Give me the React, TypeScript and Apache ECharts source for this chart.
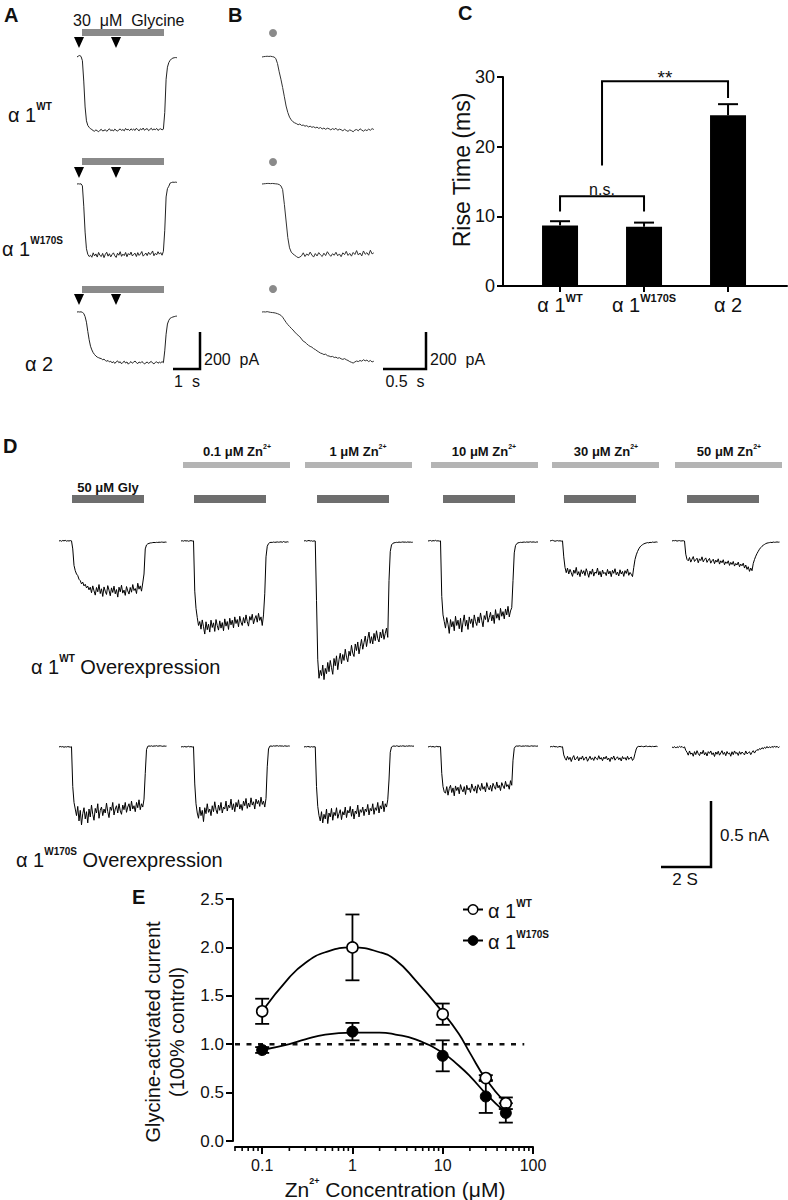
import React, { useEffect, useRef } from "react";
import * as echarts from "echarts";

const FONT = '"Liberation Sans", Arial, Helvetica, sans-serif';

// ---------------- Panel A : whole-cell currents (pA), one sample every 0.05 s
const A_DT = 0.05;
const A_TRACE_WT = [0, 5, 8, 3, -20, -130, -270, -345, -370, -380, -388,
  -392, -398, -401, -394, -399, -404, -396, -391, -400, -397, -393, -402, -395, -388, -398, -394, -400, -390, -396, -401,
  -393, -389, -397, -392, -399, -386, -394, -391, -398, -388, -395, -390, -397, -385, -393, -399, -388, -394, -384, -396,
  -390, -387, -398, -392, -385, -395, -389, -393, -386, -397, -391, -388, -394, -390,
  -300, -120, -55, -30, -18, -10, -6, -4, -3, -4];
const A_TRACE_W170S = [0, 1, 0, 1, -10, -120, -260, -350, -380, -392, -385,
  -396, -372, -389, -378, -395, -370, -386, -392, -375, -398, -380, -369, -390, -377, -394, -381, -372, -388, -397, -374,
  -385, -366, -391, -379, -387, -370, -393, -376, -384, -368, -389, -380, -374, -392, -371, -386, -378, -365, -390, -382,
  -373, -387, -369, -381, -376, -362, -388, -375, -383, -366, -379, -371, -385, -364,
  -250, -70, -25, -12, 5, 8, 10, 9, 10, 9];
const A_TRACE_A2 = [0, 1, 0, 1, -2, -8, -25, -55, -105, -150, -185, -205, -220, -230, -238, -244, -247, -250, -252, -258, -255, -262, -266,
  -262, -270, -266, -275, -268, -278, -270, -264, -274, -269, -280, -272, -266, -276, -270, -282, -274, -268, -277, -271,
  -265, -274, -279, -270, -276, -268, -273, -281, -275, -270, -278, -272, -267, -276, -280, -273, -269, -277, -271, -275, -268, -274,
  -210, -120, -65, -45, -34, -30, -27, -25, -23, -22];

// ---------------- Panel B : onset of the same currents (pA), one sample every 0.02 s
const B_DT = 0.02;
const B_TRACE_WT = [0, 2, 3, 4, 3, 4, 2, 0, -8, -35, -80, -120, -165, -215, -265, -300, -325, -340, -350, -356,
  -360, -366, -362, -370, -368, -374, -371, -378, -374, -380, -377, -383, -379,
  -386, -381, -389, -384, -391, -385, -388, -394, -387, -392, -385, -396, -390, -393, -399, -391, -397, -402, -394, -398,
  -404, -395, -392, -399, -388, -395, -401, -393, -398, -390, -396, -387, -392];
const B_TRACE_W170S = [0, 1, 2, 3, 3, 2, 3, 2, 1, 0, -3, -10, -30, -110, -200, -290, -345, -368, -378, -385, -392, -398, -395,
  -388, -372, -392, -378, -386, -368, -384, -395, -376, -389, -371, -383, -392, -374, -387, -366, -380, -391, -377, -385,
  -369, -388, -378, -393, -372, -382, -364, -386, -375, -390, -370, -381, -360, -384, -373, -389, -362, -380, -371, -385, -358, -378, -372];
const B_TRACE_A2 = [0, 1, 0, 2, 0, -2, -3, -4, -6, -9, -13, -18, -28, -42, -56, -68, -78, -88, -97, -108, -118, -126, -134,
  -146, -158, -163, -172, -180, -186, -190, -198, -203, -210, -216, -222, -225, -230, -228, -236, -238, -242, -240, -246,
  -244, -250, -247, -253, -256, -252, -258, -262, -268, -272, -276, -270, -265, -268, -262, -266, -258, -264, -260, -268,
  -262, -270, -266];

// ---------------- Panel C : rise time (ms)
const C_GROUPS = ["α 1", "α 1", "α 2"];
const C_GROUP_SUP = ["WT", "W170S", ""];
const C_MEAN = [8.7, 8.5, 24.5];
const C_SEM = [0.6, 0.6, 1.6];
// brackets: [from group, to group, top, left end, right end]
const C_BRACKETS = [[0, 1, 12.9, 10.7, 10.7], [0.5, 2, 29.4, 17.3, 27.0]];
const C_BRACKET_TEXT = ["n.s.", "**"];

// ---------------- Panel D : currents (pA), one sample every 0.05 s
const D_DT = 0.05;
const D_CONDITIONS = ["50 μM Gly", "0.1 μM Zn", "1 μM Zn", "10 μM Zn", "30 μM Zn", "50 μM Zn"];
const D_WT_GLY = [0, 3, -2, 4, 1, 5, -1, 2, 0, 3, 1,
  -60, -185, -225, -250, -262, -290, -300, -325, -312, -340, -328, -355, -342, -370, -350,
  -392, -340, -378, -410, -352, -385, -330, -398, -362, -420, -348, -380, -405, -338, -372, -415, -355, -390, -342, -400,
  -368, -425, -350, -385, -335, -395, -372, -412, -345, -378, -402, -352, -388, -330, -375, -360, -398, -320, -365, -340, -380, -318,
  -250, -60, -30, -22, -18, -15, -14, -12, -11, -12, -10, -11, -9, -10, -8, -9, -10, -8, -9];
const D_WT_ZN01 = [0, 2, -1, 3, 0, 2, -2, 1, 3, 0, 1, -380, -510, -580, -640, -610,
  -668, -598, -650, -705, -612, -672, -630, -690, -600, -655, -620, -685, -595, -640, -675, -605, -660, -618, -680, -590,
  -645, -610, -670, -585, -635, -600, -658, -575, -625, -595, -650, -570, -615, -640, -580, -622, -560, -610, -645, -572,
  -600, -555, -628, -590, -565, -615, -548, -602, -575, -640, -560,
  -400, -120, -40, -20, -12, -10, -11, -8, -10, -9, -7, -9, -8, -6, -10, -4, -8, -9, -6, -8];
const D_WT_ZN1 = [0, 3, -1, 2, 4, 0, 2, -2, 1, 0, -450, -900, -1040, -980,
  -1020, -940, -1050, -965, -1005, -920, -990, -905, -960, -1010, -890, -945, -870, -975, -900, -850, -930, -860, -905, -820,
  -880, -915, -835, -870, -790, -850, -875, -780, -830, -765, -855, -800, -745, -820, -770, -720, -800, -740, -690, -775,
  -725, -780, -700, -755, -680, -740, -765, -690, -735, -670, -745, -700, -660, -730,
  -300, -80, -30, -18, -14, -12, -10, -11, -8, -10, -9, -7, -9, -8, -10, -7, -9, -8, -10, -9];
const D_WT_ZN10 = [0, 2, 4, -1, 3, 1, 5, 0, 2, -1, 1, -420, -560, -610,
  -660, -580, -630, -700, -595, -650, -610, -680, -570, -640, -600, -665, -585, -690, -615, -560, -645, -600, -670, -575,
  -625, -590, -655, -560, -610, -640, -575, -620, -545, -600, -650, -565, -595, -530, -615, -580, -540, -605, -560, -625,
  -520, -585, -550, -600, -510, -570, -535, -590, -515, -560, -495, -575, -530, -505,
  -300, -90, -35, -20, -14, -12, -10, -11, -9, -8, -10, -7, -9, -8, -6, -9, -7, -8, -10, -7, -8];
const D_WT_ZN30 = [0, 3, 5, 2, -2, 1, 3, 0, 2, -1, 1, -120, -200, -240,
  -205, -250, -215, -240, -268, -220, -245, -200, -258, -232, -270, -218, -248, -225, -262, -210, -240, -275, -228, -252,
  -212, -266, -235, -245, -205, -258, -230, -272, -220, -248, -238, -262, -215, -250, -228, -270, -222, -245, -210, -256,
  -235, -265, -218, -250, -230, -268, -225, -246, -212, -260, -238, -252, -270,
  -200, -140, -105, -80, -60, -45, -35, -28, -22, -18, -15, -12, -14, -10, -12, -8, -10, -9, -7, -9];
const D_WT_ZN50 = [0, 3, 2, 4, -1, 2, 3, 0, 1, 2, 0, -100, -140,
  -150, -125, -160, -138, -118, -155, -142, -130, -165, -135, -148, -120, -158, -140, -128, -162, -145, -132, -168, -150,
  -138, -172, -145, -160, -135, -175, -150, -165, -142, -180, -158, -170, -150, -185, -162, -178, -155, -190, -170, -182,
  -160, -195, -175, -188, -168, -205, -182, -215, -195, -230, -205, -225,
  -170, -140, -115, -95, -78, -62, -50, -40, -32, -26, -20, -16, -14, -12, -10, -12, -8, -10, -9, -7, -9, -8];
const D_MUT_GLY = [0, 4, 1, 3, -2, 2, 0, 3, 1, -1, 2, -300, -420, -470,
  -520, -450, -560, -480, -590, -505, -460, -545, -490, -575, -470, -530, -440, -510, -555, -465, -500, -430, -540, -480,
  -455, -520, -470, -500, -425, -490, -535, -455, -480, -420, -515, -470, -445, -500, -430, -485, -510, -440, -475, -420,
  -495, -455, -430, -485, -410, -470, -445, -490, -420, -460, -400, -475, -430, -455, -395,
  -200, -20, 5, 8, 6, 9, 5, 8, 7, 10, 6, 8, 9, 7, 5, 8, 6, 7];
const D_MUT_ZN01 = [0, 3, 1, 4, 0, 2, 5, 1, 3, 0, 2, -280, -430, -500,
  -540, -455, -520, -480, -565, -460, -505, -430, -495, -470, -520, -445, -490, -415, -475, -505, -440, -480, -420, -500,
  -455, -470, -410, -485, -440, -460, -395, -475, -430, -490, -420, -455, -400, -470, -435, -480, -410, -445, -390, -465,
  -425, -455, -385, -440, -415, -470, -395, -430, -405, -450, -380, -435, -410, -455, -390,
  -150, -15, 6, 8, 5, 9, 7, 8, 10, 6, 9, 7, 8, 5, 9, 7, 6, 8, 7];
const D_MUT_ZN1 = [0, 3, 1, 4, 2, -1, 3, 0, 2, 1, -300, -450, -520,
  -560, -490, -575, -510, -545, -470, -580, -500, -530, -465, -555, -495, -520, -460, -540, -505, -475, -550, -490, -515,
  -455, -535, -480, -500, -450, -525, -470, -545, -485, -505, -440, -530, -475, -495, -455, -520, -470, -490, -435, -515,
  -465, -485, -430, -510, -460, -480, -420, -500, -445, -470, -410, -490, -430, -455, -400,
  -250, -40, 0, 6, 8, 5, 9, 7, 4, 8, 6, 9, 7, 5, 8, 6, 9, 7, 8, 6, 7];
const D_MUT_ZN10 = [0, 3, 5, 1, 4, 0, 2, 5, 1, 3, 2, -200, -300, -340,
  -350, -300, -365, -315, -290, -345, -310, -370, -295, -330, -305, -355, -285, -320, -340, -300, -360, -290, -325, -310,
  -345, -280, -315, -335, -295, -350, -285, -310, -330, -275, -320, -300, -340, -270, -305, -325, -290, -335, -275, -300,
  -320, -265, -310, -290, -330, -270, -295, -315, -260, -300, -285, -320, -255, -290,
  -100, -10, 5, 8, 6, 9, 7, 5, 8, 6, 9, 7, 8, 5, 7, 9, 6, 8, 7, 6, 8];
const D_MUT_ZN30 = [0, 4, 2, 6, 1, 3, -1, 2, 4, 0, 2, -60, -85,
  -100, -70, -95, -78, -110, -82, -65, -98, -88, -72, -105, -80, -92, -68, -100, -85, -75, -108, -90, -70,
  -95, -82, -102, -74, -88, -96, -66, -92, -80, -104, -76, -90, -70, -98, -84, -110, -78, -92, -68, -100,
  -86, -74, -96, -82, -106, -72, -90, -80, -100, -70, -94, -84, -76, -102, -88,
  -50, -15, 2, 5, 3, 6, 4, 2, 5, 7, 3, 4, 6, 2, 5, 3, 4, 6, 3];
const D_MUT_ZN50 = [0, -5, 3, -8, 2, -4, 5, -2, 4, -6, 1, -25,
  -40, -62, -30, -55, -45, -70, -35, -58, -28, -50, -65, -38, -52, -25, -60, -42, -68, -35, -48, -30,
  -58, -44, -72, -38, -55, -32, -62, -46, -28, -56, -40, -66, -34, -52, -45, -70, -36, -58, -30, -50,
  -42, -64, -35, -55, -38, -48, -60, -30, -52, -44, -36, -58, -40, -28, -46,
  -30, -20, -25, -12, -18, -5, -14, -2, -10, 4, -8, 2, -6, 5, -4, 8, -3, 6, -5, 2];

// ---------------- Panel E : normalised glycine current vs Zn2+ (μM)
const E_CONC = [0.1, 1, 10, 30, 50];
const E_WT_MEAN = [1.34, 2.0, 1.31, 0.65, 0.39];
const E_WT_SEM = [0.13, 0.34, 0.11, 0.03, 0.06];
const E_MUT_MEAN = [0.94, 1.13, 0.88, 0.46, 0.29];
const E_MUT_SEM = [0.03, 0.09, 0.16, 0.17, 0.1];
const E_FIT_CONC = [0.1, 0.2, 0.3, 0.5, 1, 2, 3, 5, 10, 15, 20, 30, 50];
const E_FIT_WT = [1.34, 1.69, 1.84, 1.95, 2.0, 1.95, 1.87, 1.66, 1.33, 1.11, 0.91, 0.64, 0.39];
const E_FIT_MUT = [0.94, 1.0, 1.05, 1.1, 1.12, 1.12, 1.1, 1.05, 0.91, 0.78, 0.67, 0.49, 0.29];
const E_CONTROL_LEVEL = 1.0;
const E_CONTROL_RANGE = [0.05, 80];
const E_MAJOR_TICKS = [0.1, 1, 10, 100];
const E_MINOR_TICKS = [0.05, 0.06, 0.07, 0.08, 0.09, 0.2, 0.3, 0.4, 0.5, 0.6, 0.7, 0.8, 0.9,
  2, 3, 4, 5, 6, 7, 8, 9, 20, 30, 40, 50, 60, 70, 80, 90];
const E_Y_TICKS_STEP = 0.5;

// ================= layout helpers =================
function text(x: number, y: number, t: string, size: number, o: any = {}) {
  const align = o.align || "left";
  return {
    type: "text", x, y, z: 20, rotation: o.rotation || 0,
    style: {
      text: t, fontSize: size, fontFamily: FONT, fontWeight: o.bold ? "bold" : "normal", fill: "#111",
      align, textAlign: align, verticalAlign: "middle", textVerticalAlign: "middle", rich: o.rich,
    },
  };
}
function richSup(base: number, sup: number, bold = false) {
  return {
    a: { fontSize: base, lineHeight: Math.round(base * 1.15), fontFamily: FONT, fontWeight: bold ? "bold" : "normal",
      fill: "#111", color: "#111", verticalAlign: "bottom" },
    s: { fontSize: sup, lineHeight: sup, fontFamily: FONT, fontWeight: "bold", fill: "#111", color: "#111", verticalAlign: "top" },
  };
}

function buildOption() {
  const grid: any[] = [];
  const xAxis: any[] = [];
  const yAxis: any[] = [];
  const series: any[] = [];
  const axisLine = { show: true, onZero: false, lineStyle: { color: "#000", width: 2 } };

  // ---------- Panel C (grid 0)
  grid.push({ left: 503, top: 77, width: 284, height: 209, outerBoundsMode: "none", containLabel: false });
  xAxis.push({
    type: "value", gridIndex: 0, min: -0.679, max: 2.702, splitLine: { show: false }, axisLine,
    axisTick: { show: true, customValues: [0, 1, 2], length: 6, lineStyle: { color: "#000", width: 2 } },
    axisLabel: {
      customValues: [0, 1, 2], margin: 6,
      formatter: (v: number) => {
        const i = Math.round(v);
        return C_GROUP_SUP[i] ? `{a|${C_GROUPS[i]}}{s|${C_GROUP_SUP[i]}}` : `{a|${C_GROUPS[i]}}`;
      },
      rich: richSup(20, 11),
    },
  });
  yAxis.push({
    type: "value", gridIndex: 0, min: 0, max: 30, interval: 10, splitLine: { show: false }, axisLine,
    axisTick: { show: true, length: 6, lineStyle: { color: "#000", width: 2 } },
    axisLabel: { fontSize: 18, fontFamily: FONT, color: "#111", margin: 8 },
  });
  series.push({
    type: "bar", xAxisIndex: 0, yAxisIndex: 0, barWidth: 36, silent: true,
    data: C_MEAN.map((m, i) => [i, m]), itemStyle: { color: "#000", opacity: 1 },
  });
  series.push({
    type: "custom", xAxisIndex: 0, yAxisIndex: 0, z: 4, silent: true,
    data: C_MEAN.map((m, i) => [i, m, C_SEM[i]]),
    renderItem: (p: any, api: any) => {
      const x = api.value(0), m = api.value(1), e = api.value(2);
      const a = api.coord([x, m]);
      const b = api.coord([x, m + e]);
      const st = { stroke: "#000", lineWidth: 2 };
      return {
        type: "group", children: [
          { type: "line", shape: { x1: a[0], y1: a[1], x2: b[0], y2: b[1] }, style: st },
          { type: "line", shape: { x1: b[0] - 10, y1: b[1], x2: b[0] + 10, y2: b[1] }, style: st },
        ],
      };
    },
  });
  series.push({
    type: "custom", xAxisIndex: 0, yAxisIndex: 0, z: 4, silent: true,
    data: C_BRACKETS,
    renderItem: (p: any, api: any) => {
      const x1 = api.value(0), x2 = api.value(1), top = api.value(2), l = api.value(3), r = api.value(4);
      const pts = [api.coord([x1, l]), api.coord([x1, top]), api.coord([x2, top]), api.coord([x2, r])];
      return { type: "polyline", shape: { points: pts }, style: { stroke: "#000", lineWidth: 2, fill: null } };
    },
  });

  // ---------- Panel E (grid 1)
  grid.push({ left: 235, top: 899, width: 298, height: 242, outerBoundsMode: "none", containLabel: false });
  xAxis.push({
    type: "log", logBase: 10, gridIndex: 1, min: 0.05, max: 100, offset: 6, splitLine: { show: false }, axisLine,
    minorTick: { show: false },
    axisTick: { show: true, customValues: E_MAJOR_TICKS, length: 7, lineStyle: { color: "#000", width: 2 } },
    axisLabel: {
      customValues: E_MAJOR_TICKS, fontSize: 16, fontFamily: FONT, color: "#111", margin: 10,
      formatter: (v: number) => {
        const r = Number(Number(v).toPrecision(3));
        return E_MAJOR_TICKS.indexOf(r) >= 0 ? String(r) : "";
      },
    },
  });
  yAxis.push({
    type: "value", gridIndex: 1, min: 0, max: 2.5, interval: E_Y_TICKS_STEP, offset: 2, splitLine: { show: false }, axisLine,
    axisTick: { show: true, length: 7, lineStyle: { color: "#000", width: 2 } },
    axisLabel: { fontSize: 17, fontFamily: FONT, color: "#111", margin: 9, formatter: (v: number) => v.toFixed(1) },
  });
  series.push({
    type: "line", name: "ref", xAxisIndex: 1, yAxisIndex: 1, silent: true, symbol: "none", z: 2,
    data: E_CONTROL_RANGE.map((c) => [c, E_CONTROL_LEVEL]),
    lineStyle: { color: "#111", width: 2.5, type: [5, 6.5] },
  });
  series.push({
    type: "line", name: "WT", xAxisIndex: 1, yAxisIndex: 1, silent: true, symbol: "none", smooth: 0.5, z: 3,
    data: E_FIT_CONC.map((c, i) => [c, E_FIT_WT[i]]),
    lineStyle: { color: "#000", width: 1.8 }, itemStyle: { color: "#fff", borderColor: "#000", borderWidth: 1.5 },
  });
  series.push({
    type: "line", name: "W170S", xAxisIndex: 1, yAxisIndex: 1, silent: true, symbol: "none", smooth: 0.5, z: 3,
    data: E_FIT_CONC.map((c, i) => [c, E_FIT_MUT[i]]),
    lineStyle: { color: "#000", width: 1.8 }, itemStyle: { color: "#000" },
  });
  const errRender = (p: any, api: any) => {
    const x = api.value(0), m = api.value(1), e = api.value(2);
    const a = api.coord([x, m + e]);
    const b = api.coord([x, m - e]);
    const st = { stroke: "#000", lineWidth: 1.8 };
    return {
      type: "group", children: [
        { type: "line", shape: { x1: a[0], y1: a[1], x2: b[0], y2: b[1] }, style: st },
        { type: "line", shape: { x1: a[0] - 7, y1: a[1], x2: a[0] + 7, y2: a[1] }, style: st },
        { type: "line", shape: { x1: b[0] - 7, y1: b[1], x2: b[0] + 7, y2: b[1] }, style: st },
      ],
    };
  };
  series.push({ type: "custom", name: "WT err", xAxisIndex: 1, yAxisIndex: 1, z: 4, silent: true, renderItem: errRender,
    data: E_CONC.map((c, i) => [c, E_WT_MEAN[i], E_WT_SEM[i]]) });
  series.push({ type: "custom", name: "W170S err", xAxisIndex: 1, yAxisIndex: 1, z: 4, silent: true, renderItem: errRender,
    data: E_CONC.map((c, i) => [c, E_MUT_MEAN[i], E_MUT_SEM[i]]) });
  series.push({ type: "scatter", name: "WT pts", xAxisIndex: 1, yAxisIndex: 1, z: 5, silent: true, symbolSize: 11,
    data: E_CONC.map((c, i) => [c, E_WT_MEAN[i]]), itemStyle: { color: "#fff", borderColor: "#000", borderWidth: 1.6, opacity: 1 } });
  series.push({ type: "scatter", name: "W170S pts", xAxisIndex: 1, yAxisIndex: 1, z: 6, silent: true, symbolSize: 11,
    data: E_CONC.map((c, i) => [c, E_MUT_MEAN[i]]), itemStyle: { color: "#000", borderColor: "#000", borderWidth: 1, opacity: 1 } });
  series.push({
    type: "custom", name: "minor ticks", xAxisIndex: 1, yAxisIndex: 1, silent: true, clip: false,
    data: E_MINOR_TICKS.map((v) => [v, 0]),
    renderItem: (p: any, api: any) => {
      const c = api.coord([api.value(0), 0]);
      return { type: "line", shape: { x1: c[0], y1: c[1] + 6, x2: c[0], y2: c[1] + 10 }, style: { stroke: "#000", lineWidth: 1.6 } };
    },
  });

  // ---------- traces
  const addTrace = (values: number[], dt: number, left: number, baseline: number, pxPerSec: number,
    pxPerUnit: number, yMax: number, yMin: number, color: string) => {
    const gi = grid.length;
    const span = (values.length - 1) * dt;
    grid.push({ left, top: baseline - yMax * pxPerUnit, width: span * pxPerSec, height: (yMax - yMin) * pxPerUnit,
      outerBoundsMode: "none", containLabel: false });
    xAxis.push({ type: "value", gridIndex: gi, min: 0, max: span, show: false });
    yAxis.push({ type: "value", gridIndex: gi, min: yMin, max: yMax, show: false });
    series.push({ type: "line", xAxisIndex: gi, yAxisIndex: gi, silent: true, symbol: "none", clip: false,
      data: values.map((v, i) => [i * dt, v]), lineStyle: { color, width: 1 } });
  };
  const AB_ROWS = [57, 184, 312];
  [A_TRACE_WT, A_TRACE_W170S, A_TRACE_A2].forEach((t, r) => addTrace(t, A_DT, 77, AB_ROWS[r], 27, 0.185, 100, -500, "#222"));
  [B_TRACE_WT, B_TRACE_W170S, B_TRACE_A2].forEach((t, r) => addTrace(t, B_DT, 262, AB_ROWS[r], 86, 0.185, 100, -500, "#333"));
  const D_LEFTS = [59, 181, 304, 428, 550, 672];
  [D_WT_GLY, D_WT_ZN01, D_WT_ZN1, D_WT_ZN10, D_WT_ZN30, D_WT_ZN50].forEach((t, i) =>
    addTrace(t, D_DT, D_LEFTS[i], 541, 25, 0.132, 100, -1200, "#000"));
  [D_MUT_GLY, D_MUT_ZN01, D_MUT_ZN1, D_MUT_ZN10, D_MUT_ZN30, D_MUT_ZN50].forEach((t, i) =>
    addTrace(t, D_DT, D_LEFTS[i], 747, 25, 0.132, 100, -1200, "#000"));

  // ---------- graphic decorations
  const g: any[] = [];
  g.push(text(4, 15, "A", 20, { bold: true }), text(228, 15, "B", 20, { bold: true }), text(458, 13, "C", 20, { bold: true }),
    text(3, 446, "D", 20, { bold: true }), text(132, 897, "E", 20, { bold: true }));
  g.push(text(73, 20, "30  μM  Glycine", 16));
  [29, 158, 286].forEach((y) => g.push({ type: "rect", z: 10, shape: { x: 82, y, width: 82, height: 7 }, style: { fill: "#8a8a8a" } }));
  [37, 167, 294].forEach((y) => [79, 116].forEach((cx) =>
    g.push({ type: "polygon", z: 10, shape: { points: [[cx - 5, y], [cx + 5, y], [cx, y + 11]] }, style: { fill: "#000" } })));
  [33, 162, 289].forEach((cy) => g.push({ type: "circle", z: 10, shape: { cx: 273, cy, r: 4 }, style: { fill: "#8a8a8a" } }));
  g.push(text(8, 113, "{a|α 1}{s|WT}", 20, { rich: richSup(20, 10) }));
  g.push(text(2, 247, "{a|α 1}{s|W170S}", 20, { rich: richSup(20, 10) }));
  g.push(text(25, 362, "{a|α 2}", 20, { rich: richSup(20, 10) }));
  const bar = (pts: number[][]) => ({ type: "polyline", z: 10, shape: { points: pts }, style: { stroke: "#000", lineWidth: 2.5, fill: null } });
  g.push(bar([[173, 369], [200, 369], [200, 332]]), text(204, 359, "200  pA", 16), text(187, 381, "1  s", 16, { align: "center" }));
  g.push(bar([[383, 369], [426, 369], [426, 332]]), text(430, 359, "200  pA", 16), text(405, 381, "0.5  s", 16, { align: "center" }));
  g.push(text(462, 170, "Rise Time (ms)", 23, { align: "center", rotation: Math.PI / 2 }));
  g.push(text(602, 189, C_BRACKET_TEXT[0], 16, { align: "center" }), text(665, 77, C_BRACKET_TEXT[1], 19, { align: "center" }));
  const ZN_X = [237, 358, 484, 606, 729];
  const ZN_BARS = [183, 305, 431, 552, 675];
  D_CONDITIONS.slice(1).forEach((c, i) => {
    g.push(text(ZN_X[i], 450, `{a|${c}}{s|2+}`, 13, { align: "center", rich: richSup(13, 7, true) }));
    g.push({ type: "rect", z: 10, shape: { x: ZN_BARS[i], y: 462, width: 107, height: 6 }, style: { fill: "#b4b4b4" } });
  });
  g.push(text(108, 487, D_CONDITIONS[0], 13, { align: "center", bold: true }));
  [72, 194, 317, 443, 564, 687].forEach((x) => g.push({ type: "rect", z: 10, shape: { x, y: 495, width: 72, height: 8 }, style: { fill: "#6e6e6e" } }));
  g.push(text(31, 665, "{a|α 1}{s|WT}{a| Overexpression}", 20, { rich: richSup(20, 10) }));
  g.push(text(16, 858, "{a|α 1}{s|W170S}{a| Overexpression}", 20, { rich: richSup(20, 10) }));
  g.push(bar([[661, 867], [711, 867], [711, 801]]), text(720, 835, "0.5 nA", 17), text(685, 879, "2 S", 17, { align: "center" }));
  g.push(text(153, 1032, "Glycine-activated current", 20, { align: "center", rotation: Math.PI / 2 }));
  g.push(text(177, 1032, "(100% control)", 20, { align: "center", rotation: Math.PI / 2 }));
  g.push(text(395, 1188, "{a|Zn}{s|2+}{a| Concentration (μM)}", 21, { align: "center", rich: richSup(21, 9) }));

  return {
    animation: false,
    backgroundColor: "#fff",
    textStyle: { fontFamily: FONT },
    grid, xAxis, yAxis, series,
    legend: {
      data: [
        { name: "WT", itemStyle: { color: "#fff", borderColor: "#000", borderWidth: 1.5 } },
        { name: "W170S", itemStyle: { color: "#000", borderColor: "#000", borderWidth: 1 } },
      ],
      orient: "vertical", left: 457, top: 893, itemWidth: 20, itemHeight: 12, itemGap: 8, selectedMode: false,
      formatter: (n: string) => `{a|α 1}{s|${n}}`,
      textStyle: { rich: richSup(20, 10) },
    },
    graphic: { elements: g },
  };
}

export default function App() {
  const ref = useRef<HTMLDivElement>(null);
  useEffect(() => {
    const chart = echarts.init(ref.current!, null, { renderer: "svg" });
    chart.setOption(buildOption() as any);
    return () => chart.dispose();
  }, []);
  return <div ref={ref} style={{ position: "absolute", left: 0, top: 0, width: 788, height: 1200, background: "#fff" }} />;
}
